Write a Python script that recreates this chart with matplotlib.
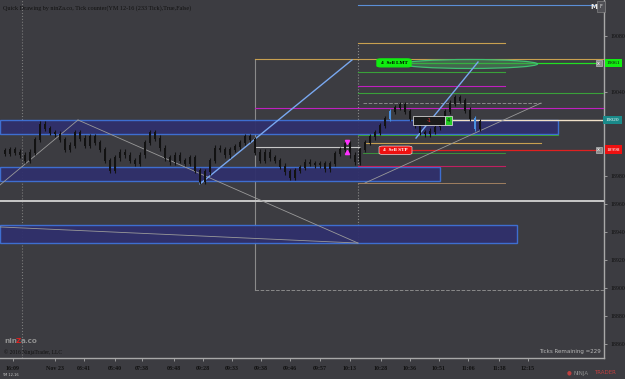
import matplotlib
matplotlib.use("Agg")
import matplotlib.pyplot as plt
from matplotlib.patches import Rectangle, Ellipse, FancyBboxPatch
import numpy as np

# ---------------- data ----------------
closes = [18996, 18999, 18997, 18995, 18991, 18997, 19006, 19017, 19014, 19011,
          19010, 19006, 18999, 19002, 19011, 19007, 19002, 19008, 19004, 18999,
          18991, 18984, 18993, 18997, 18995, 18991, 18989, 18995, 19004, 19011,
          19007, 19000, 18993, 18990, 18995, 18991, 18989, 18993, 18984, 18976,
          18983, 18991, 19000, 18999, 18995, 18999, 19001, 19004, 19008, 19006,
          18997, 18991, 18997, 18993, 18991, 18987, 18983, 18979, 18984, 18986,
          18990, 18989, 18988, 18989, 18985, 18989, 18996, 18999, 19003, 18995,
          18990, 18999, 19004, 19008, 19011, 19016, 19021, 19026, 19029, 19031,
          19026, 19021, 19016, 19011, 19010, 19012, 19015, 19020, 19026, 19032,
          19036, 19034, 19027, 19021, 19014, 19019]
blue_bars = [77, 94]

time_pos = [1.6, 10, 15.8, 22, 27.4, 33.8, 39.6, 45.4, 51.2, 57, 63, 69, 75.2,
            81, 86.8, 92.6, 98.8, 104.6]
time_labels = ["16:09", "Nov 23", "03:41", "05:40", "07:38", "08:48", "09:28",
               "09:33", "09:38", "09:46", "09:57", "10:13", "10:28", "10:36",
               "10:51", "11:06", "11:38", "12:15"]
price_ticks = [19080, 19040, 18980, 18960, 18940, 18920, 18900, 18880, 18860]

# zones: (start, end, low, high)
zones = [(-1, 110.6, 19010, 19020),
         (-1, 87.0, 18976.4, 18986.4),
         (-1, 102.4, 18932.1, 18945.0)]

# horizontal levels: (price, start, end, color, lw, style)
levels = [(19102.1, 70.6, 117.8, "#5b8fd6", 0.8, "-"),
          (19075.0, 70.6, 100.0, "#c8a050", 0.8, "-"),
          (19063.6, 50.0, 119.8, "#c8a050", 0.8, "-"),
          (19060.7, 81.0, 118.4, "#22e022", 0.9, "-"),
          (19054.3, 70.6, 100.0, "#3aa03a", 0.8, "-"),
          (19044.3, 70.6, 100.0, "#c020c0", 0.8, "-"),
          (19039.3, 70.6, 119.8, "#3aa03a", 0.8, "-"),
          (19032.1, 71.6, 107.2, "#8a8a8a", 0.7, "--"),
          (19028.6, 50.0, 119.8, "#c020c0", 0.8, "-"),
          (19020.0, 89.4, 119.8, "#f0e0c8", 1.0, "-"),
          (19009.5, 70.6, 110.6, "#3aa03a", 0.7, "-"),
          (19003.6, 72.0, 107.2, "#c8a050", 0.8, "-"),
          (19000.7, 50.0, 71.0, "#c8c8c8", 0.8, "-"),
          (18998.6, 81.0, 118.4, "#e02020", 0.9, "-"),
          (18996.4, 71.6, 100.0, "#3aa03a", 0.6, "-"),
          (18987.0, 70.6, 100.0, "#c02060", 0.8, "-"),
          (18975.0, 70.6, 100.0, "#a08060", 0.7, "-"),
          (18962.1, -1, 119.8, "#c8c8c8", 1.4, "-"),
          (18898.6, 50.0, 119.8, "#8a8a8a", 0.7, "--")]

# vertical lines: (x, ymin, ymax, color, style)
verticals = [(3.4, 18850, 19106, "#7a7a7a", ":"),
             (70.6, 18932.1, 19075.0, "#8a8a8a", ":"),
             (50.0, 18898.6, 19063.6, "#8a8a8a", "-")]

# diagonal lines: (x0, y0, x1, y1, color, lw)
diagonals = [(-1, 18973.6, 14.6, 19020.0, "#9a9a9a", 0.6),
             (14.6, 19020.0, 70.6, 18932.1, "#9a9a9a", 0.6),
             (-1, 18943.6, 70.6, 18932.1, "#9a9a9a", 0.6),
             (72.0, 18975.0, 107.2, 19032.1, "#9a9a9a", 0.6),
             (39.0, 18974.3, 69.4, 19062.9, "#79a8f0", 1.0),
             (82.2, 19007.1, 94.6, 19061.4, "#79a8f0", 1.0)]

# ---------------- figure ----------------
BG = "#3c3c41"
W, H = 625, 379
fig = plt.figure(figsize=(W / 100, H / 100), dpi=100)
fig.patch.set_facecolor(BG)
ax = fig.add_axes([0, 1 - 358 / H, 604 / W, 358 / H])
ax.set_facecolor(BG)
ax.set_xlim(-1, 119.8)
ax.set_ylim(18850, 19105.7)

for s in ["top", "left"]:
    ax.spines[s].set_visible(False)
for s in ["right", "bottom"]:
    ax.spines[s].set_color("#a8a8a8")
    ax.spines[s].set_linewidth(1.0)

for x0, x1, lo, hi in zones:
    ax.add_patch(Rectangle((x0, lo), x1 - x0, hi - lo, facecolor="#30306c",
                           edgecolor="#3f72d8", lw=1.0, alpha=0.95, zorder=2))

for p, x0, x1, c, lw, ls in levels:
    ax.plot([x0, x1], [p, p], color=c, lw=lw, ls=ls, zorder=3)

for x, y0, y1, c, ls in verticals:
    ax.plot([x, x], [y0, y1], color=c, lw=0.8, ls=ls, zorder=1.5)

for x0, y0, x1, y1, c, lw in diagonals:
    ax.plot([x0, x1], [y0, y1], color=c, lw=lw, zorder=4)

ax.add_patch(Ellipse((93, 19060), 27, 6.4, facecolor="#4a8a5a", alpha=0.55,
                     edgecolor="none", zorder=3.5))
ax.add_patch(Ellipse((93, 19060), 27, 6.4, facecolor="none",
                     edgecolor="#3fc070", lw=0.9, zorder=3.6))

# candles
closes_a = np.array(closes, dtype=float)
opens_a = np.concatenate([[closes_a[0] + 2], closes_a[:-1]])
idx = np.arange(len(closes_a))
highs = np.maximum(opens_a, closes_a) + 2
lows = np.minimum(opens_a, closes_a) - 2
cols = ["#4a90e0" if i in blue_bars else "#121212" for i in idx]
ax.vlines(idx, lows, highs, colors=cols, lw=0.8, zorder=5)
ax.bar(idx, np.abs(closes_a - opens_a) + 0.6, bottom=np.minimum(opens_a, closes_a) - 0.3,
       width=0.5, color=cols, zorder=5)
ax.plot([68.4], [19004], marker="v", color="#ff30ff", ms=3, zorder=6)
ax.plot([68.4], [18997], marker="^", color="#ff30ff", ms=3, zorder=6)

# order labels on chart
ax.add_patch(FancyBboxPatch((74.4, 19058.0), 6.8, 5.6, boxstyle="round,pad=0,rounding_size=0.8",
                            facecolor="#10ee10", edgecolor="#10ee10", zorder=7))
ax.text(77.8, 19060.8, "4  Sell LMT", fontsize=3.8, family="Liberation Serif",
        fontweight="bold", color="black", ha="center", va="center", zorder=8)
ax.add_patch(FancyBboxPatch((74.8, 18995.4), 6.6, 6.0, boxstyle="round,pad=0,rounding_size=0.8",
                            facecolor="#ee1010", edgecolor="#ffffff", lw=0.4, zorder=7))
ax.text(78.1, 18998.4, "4  Sell STP", fontsize=3.8, family="Liberation Serif",
        fontweight="bold", color="white", ha="center", va="center", zorder=8)
ax.add_patch(Rectangle((81.6, 19016.4), 6.4, 6.5, facecolor="#1c1c1c",
                       edgecolor="#d0d0d0", lw=0.6, zorder=7))
ax.text(84.8, 19019.6, "-1", fontsize=3.6, color="#e03030", ha="center",
        va="center", zorder=8)
ax.add_patch(Rectangle((88.0, 19016.4), 1.4, 6.5, facecolor="#22cc22",
                       edgecolor="#d0d0d0", lw=0.6, zorder=7))
ax.text(88.7, 19019.6, "4", fontsize=3.6, color="black", ha="center",
        va="center", zorder=8)

for p in [19060.7, 18998.6]:
    ax.add_patch(Rectangle((118.1, p - 2.2), 1.3, 4.4, facecolor="#8a8a8a",
                           edgecolor="#d0d0d0", lw=0.4, zorder=8))
    ax.text(118.75, p, "x", fontsize=3.5, color="white", ha="center",
            va="center", zorder=9)

# ticks
ax.set_xticks(time_pos)
ax.set_xticklabels(time_labels, fontsize=4.3, family="Liberation Serif",
                   fontweight="bold", color="#111111")
ax.tick_params(axis="x", length=2, width=0.6, color="#a8a8a8", pad=4)
ax.yaxis.tick_right()
ax.set_yticks(price_ticks)
ax.set_yticklabels([str(v) for v in price_ticks], fontsize=4.2,
                   family="Liberation Serif", color="#111111")
ax.tick_params(axis="y", length=2, width=0.6, color="#a8a8a8", pad=3)

yt = ax.get_yaxis_transform()
def price_label(p, txt, fc, tc, x0=1.0017, w=0.0285, h=6.4):
    ax.add_patch(Rectangle((x0, p - h / 2), w, h, transform=yt, facecolor=fc,
                           edgecolor="none", clip_on=False, zorder=9))
    ax.text(x0 + w / 2, p, txt, transform=yt, fontsize=3.9, family="Liberation Serif",
            color=tc, ha="center", va="center", clip_on=False, zorder=10)

price_label(19060.7, "19061", "#10ee10", "#111111")
price_label(19020.0, "19020", "#1a8a8a", "white", x0=0.998, w=0.032)
price_label(18998.6, "18998", "#ee1010", "white")

# texts
fig.text(3 / W, 1 - 8 / H, "Quick Drawing by ninZa.co, Tick counter(YM 12-16 (233 Tick),True,False)",
         fontsize=4.4, family="Liberation Serif", color="#111111", va="center")
fig.text(4 / W, 1 - 341 / H, "nin", fontsize=5.2, color="#909090", va="center",
         fontweight="bold")
fig.text(15.8 / W, 1 - 341 / H, "Z", fontsize=5.2, color="#e02020", va="center",
         fontweight="bold")
fig.text(20.8 / W, 1 - 341 / H, "a.co", fontsize=5.2, color="#909090", va="center",
         fontweight="bold")
fig.text(4 / W, 1 - 352 / H, "© 2016 NinjaTrader, LLC", fontsize=4.0,
         family="Liberation Serif", color="#111111", va="center")
fig.text(2 / W, 1 - 375 / H, "YM 12-16", fontsize=2.6, color="#c8c8c8", va="center")
fig.text(601 / W, 1 - 352 / H, "Ticks Remaining =229", fontsize=4.0,
         color="#b8b8b8", ha="right", va="center")
fig.text(574 / W, 1 - 373 / H, "NINJA", fontsize=4.0, color="#909090", va="center")
fig.text(594 / W, 1 - 373 / H, "TRADER", fontsize=4.0, color="#c04040", va="center")
fig.text(567 / W, 1 - 373 / H, "●", fontsize=4.0, color="#c04040", va="center")
fig.text(594 / W, 1 - 7 / H, "M", fontsize=5, color="#e8e8e8", ha="center",
         va="center", fontweight="bold")
fig.patches.append(Rectangle((597 / W, 1 - 12 / H), 8 / W, 11 / H, transform=fig.transFigure,
                             facecolor="#505055", edgecolor="#909090", lw=0.4))
fig.text(601 / W, 1 - 6.5 / H, "F", fontsize=3.5, color="#e0e0e0", ha="center", va="center")

fig.savefig("out.png", dpi=100, facecolor=BG)
